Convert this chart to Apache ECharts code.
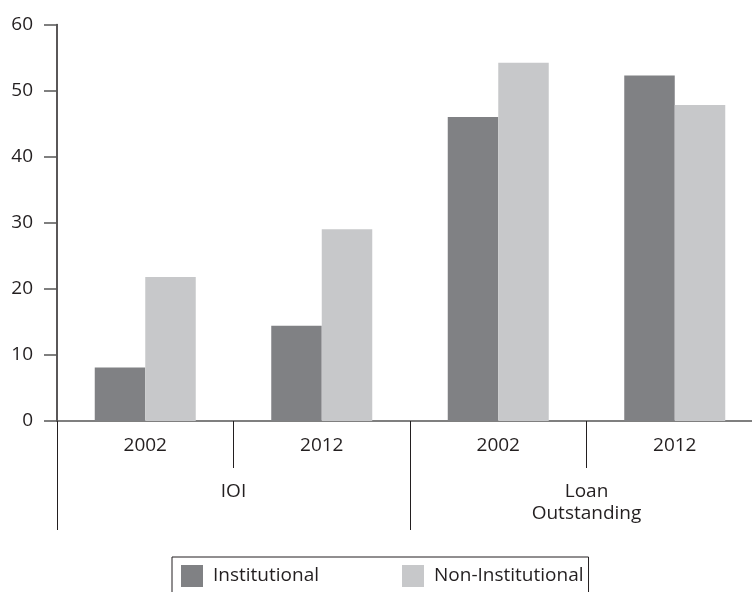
<!DOCTYPE html>
<html>
<head>
<meta charset="utf-8">
<script src="https://cdn.jsdelivr.net/npm/echarts@6/dist/echarts.min.js"></script>
<style>
  html, body { margin: 0; padding: 0; background: #fff; }
  #chart { width: 752px; height: 592px; }
</style>
</head>
<body>
<div id="chart"></div>
<script>
// Year sub-categories and their parent groups
const years = ['2002', '2012', '2002', '2012'];
const groups = ['IOI', 'Loan\nOutstanding'];

// Shares (%) by source of credit
const institutional = [8.1, 14.4, 46.0, 52.3];
const nonInstitutional = [21.8, 29.0, 54.2, 47.8];

// Value axis ticks
const yMin = 0, yMax = 60, yStep = 10;

const FONT = 'Open Sans';
const INK = '#231f20';
const FS = 19;

const chart = echarts.init(document.getElementById('chart'), null, { renderer: 'canvas' });

chart.setOption({
  animation: false,
  backgroundColor: '#ffffff',
  textStyle: { fontFamily: FONT, color: INK },
  grid: {
    left: 57, top: 24.5, width: 706, height: 396.5,
    containLabel: false,
    outerBoundsMode: 'none'
  },
  legend: {
    left: 172,
    top: 557,
    orient: 'horizontal',
    itemWidth: 22,
    itemHeight: 22,
    itemGap: 83,
    padding: [8, 5, 30, 9],
    borderColor: '#231f20',
    borderWidth: 1,
    icon: 'rect',
    textStyle: { fontFamily: FONT, fontSize: FS, color: INK, padding: [0, 0, 0, 5] },
    data: ['Institutional', 'Non-Institutional']
  },
  xAxis: [
    {
      type: 'category',
      data: years,
      position: 'bottom',
      axisLine: { show: true, lineStyle: { color: '#555', width: 1.5 } },
      axisTick: { show: true, alignWithLabel: false, length: 47, lineStyle: { color: INK, width: 1 } },
      axisLabel: { fontFamily: FONT, fontSize: FS, color: INK, margin: 14, lineHeight: 22 },
      splitLine: { show: false }
    },
    {
      type: 'category',
      data: groups,
      position: 'bottom',
      axisLine: { show: false },
      axisTick: { show: true, length: 109, lineStyle: { color: INK, width: 1 } },
      axisLabel: { fontFamily: FONT, fontSize: FS, color: INK, margin: 60, lineHeight: 22 },
      splitLine: { show: false }
    }
  ],
  yAxis: {
    type: 'value',
    min: yMin,
    max: yMax,
    interval: yStep,
    axisLine: { show: true, lineStyle: { color: INK, width: 1.5 } },
    axisTick: { show: true, length: 13, lineStyle: { color: '#555', width: 1.5 } },
    axisLabel: { fontFamily: FONT, fontSize: FS, color: INK, margin: 24 },
    splitLine: { show: false }
  },
  series: [
    {
      name: 'Institutional',
      type: 'bar',
      xAxisIndex: 0,
      data: institutional,
      barWidth: 50.5,
      barGap: '0%',
      itemStyle: { color: '#808184' }
    },
    {
      name: 'Non-Institutional',
      type: 'bar',
      xAxisIndex: 0,
      data: nonInstitutional,
      barWidth: 50.5,
      barGap: '0%',
      itemStyle: { color: '#c7c8ca' }
    }
  ]
});
</script>
</body>
</html>
